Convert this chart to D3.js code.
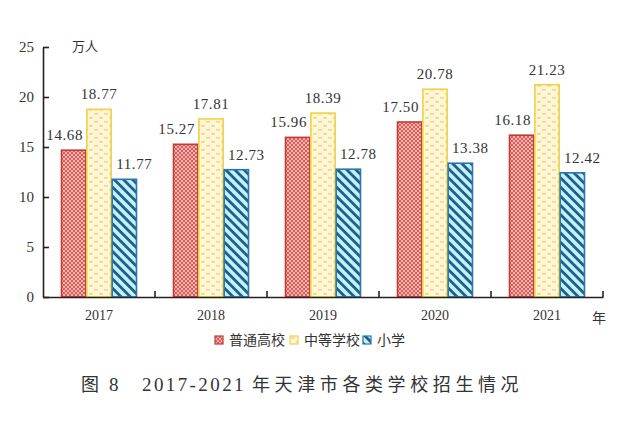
<!DOCTYPE html>
<html><head><meta charset="utf-8">
<script src="https://cdn.jsdelivr.net/npm/d3@7"></script>
<style>
html,body{margin:0;padding:0;background:#fff;}
svg{display:block;}
text{font-family:"Liberation Serif","Noto Sans CJK SC",serif;fill:#333;}
.cjk{font-family:"Noto Sans CJK SC","Liberation Serif",sans-serif;}
</style></head>
<body>
<script>
const years = ["2017","2018","2019","2020","2021"];
const seriesNames = ["普通高校","中等学校","小学"];
const gaoxiao = [14.68,15.27,15.96,17.50,16.18];
const zhongdeng = [18.77,17.81,18.39,20.78,21.23];
const xiaoxue = [11.77,12.73,12.78,13.38,12.42];
const yTicks = [0,5,10,15,20,25];
const unitLabel = "万人";
const xUnit = "年";
const titleParts = ["图","8","2017-2021","年天津市各类学校招生情况"];

const W=640,H=426;
const svg = d3.select("body").append("svg").attr("width",W).attr("height",H);
const defs = svg.append("defs");

// red checker pattern
const pr = defs.append("pattern").attr("id","pRed").attr("patternUnits","userSpaceOnUse").attr("width",4).attr("height",4);
pr.append("rect").attr("width",4).attr("height",4).attr("fill","#f6b4b0");
pr.append("rect").attr("width",2).attr("height",2).attr("fill","#d95e5a");
pr.append("rect").attr("x",2).attr("y",2).attr("width",2).attr("height",2).attr("fill","#d95e5a");

// yellow dashes pattern
const py = defs.append("pattern").attr("id","pYel").attr("patternUnits","userSpaceOnUse").attr("width",10).attr("height",8);
py.append("rect").attr("width",10).attr("height",8).attr("fill","#fff7d6");
py.append("rect").attr("x",1).attr("y",1).attr("width",4).attr("height",1.6).attr("fill","#efd68e");
py.append("rect").attr("x",6).attr("y",5).attr("width",4).attr("height",1.6).attr("fill","#efd68e");

// blue diagonal stripes
const pb = defs.append("pattern").attr("id","pBlue").attr("patternUnits","userSpaceOnUse").attr("width",6.5).attr("height",6.5).attr("patternTransform","rotate(-45)");
pb.append("rect").attr("width",6.5).attr("height",6.5).attr("fill","#c4f1fb");
pb.append("rect").attr("width",2.8).attr("height",6.5).attr("fill","#1f5f8e");

const fills = ["url(#pRed)","url(#pYel)","url(#pBlue)"];
const strokes = ["#c23a36","#f0d24a","#2a78a8"];
const labelDx = [-9,0,10];

const data = years.map((yr,i)=>({year:yr, vals:[gaoxiao[i],zhongdeng[i],xiaoxue[i]]}));

const x = d3.scaleBand().domain(years).range([43,603]).padding(0);
const xs = d3.scaleBand().domain(d3.range(3)).range([18,x.bandwidth()-18]).padding(0);
const y = d3.scaleLinear().domain([0,25]).range([297,47]);

// bars
const g = svg.append("g");
const grp = g.selectAll("g.grp").data(data).join("g").attr("transform",d=>`translate(${x(d.year)},0)`);
grp.selectAll("rect").data(d=>d.vals).join("rect")
  .attr("x",(v,j)=>xs(j)+0.5).attr("width",xs.bandwidth()-1)
  .attr("y",v=>y(v)).attr("height",v=>y(0)-y(v))
  .attr("fill",(v,j)=>fills[j]).attr("stroke",(v,j)=>strokes[j]).attr("stroke-width",1.6);
grp.selectAll("text.val").data(d=>d.vals).join("text").attr("class","val")
  .attr("x",(v,j)=>xs(j)+xs.bandwidth()/2+labelDx[j])
  .attr("y",v=>y(v)-10)
  .attr("text-anchor","middle").attr("font-size",15).attr("letter-spacing",0.6)
  .text(v=>v.toFixed(2));

// y axis
const ya = svg.append("g").attr("transform","translate(43,0)")
  .call(d3.axisLeft(y).tickValues(yTicks).tickSize(-6).tickPadding(9).tickSizeOuter(0));
ya.select(".domain").attr("stroke","#222").attr("stroke-width",1.6);
ya.selectAll(".tick line").attr("stroke","#222").attr("stroke-width",1.6);
ya.selectAll(".tick text").attr("font-size",15).attr("fill","#333").attr("font-family","Liberation Serif");

// x axis
const xa = svg.append("g").attr("transform",`translate(0,${y(0)})`)
  .call(d3.axisBottom(x).tickSize(0).tickPadding(13).tickSizeOuter(0));
xa.select(".domain").attr("stroke","#222").attr("stroke-width",1.6);
xa.selectAll(".tick text").attr("font-size",14).attr("fill","#333").attr("font-family","Liberation Serif");
svg.append("g").selectAll("line").data(years).join("line")
  .attr("x1",d=>x(d)+x.bandwidth()).attr("x2",d=>x(d)+x.bandwidth())
  .attr("y1",y(0)).attr("y2",y(0)-6).attr("stroke","#222").attr("stroke-width",1.6);

// unit labels
svg.append("text").attr("class","cjk").attr("x",72).attr("y",51).attr("font-size",13).text(unitLabel);
svg.append("text").attr("class","cjk").attr("x",592).attr("y",323).attr("font-size",14).text(xUnit);

// legend
const legX = [215,290,363];
const lg = svg.append("g").selectAll("g").data(seriesNames).join("g")
  .attr("transform",(d,i)=>`translate(${legX[i]},336)`);
lg.append("rect").attr("width",8).attr("height",8).attr("fill",(d,i)=>fills[i]).attr("stroke",(d,i)=>strokes[i]).attr("stroke-width",1.2);
lg.append("text").attr("class","cjk").attr("x",14).attr("y",9).attr("font-size",14).text(d=>d);

// title
const tx = [81,109,142,252];
const tls = [0,0,2.4,4.6];
const tcls = ["cjk","serif","serif","cjk"];
const tt = svg.append("text").attr("y",391).attr("font-size",18);
titleParts.forEach((p,i)=>{
  tt.append("tspan").attr("x",tx[i]).attr("letter-spacing",tls[i])
    .attr("font-family",tcls[i]==="cjk"?"Noto Sans CJK SC":"Liberation Serif")
    .attr("font-size",tcls[i]==="cjk"?18:19).text(p);
});
</script>
</body></html>
